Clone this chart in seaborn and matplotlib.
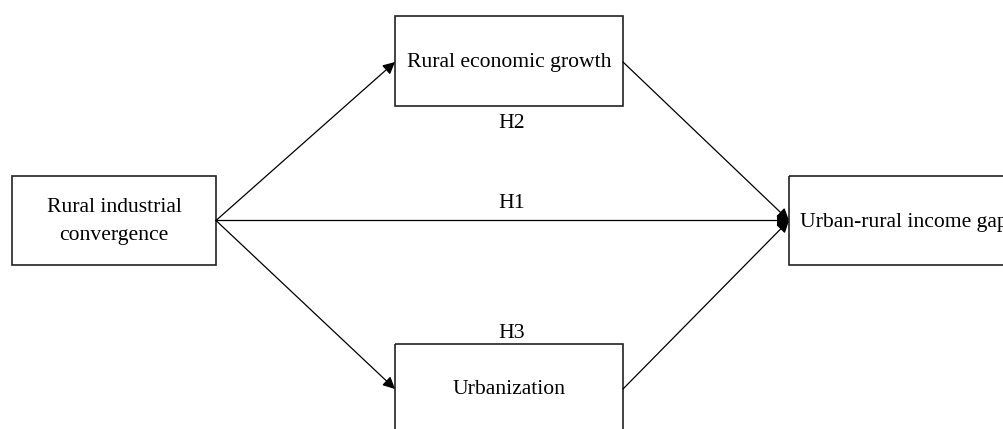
import seaborn as sns
import matplotlib.pyplot as plt
from matplotlib.patches import Rectangle

# Nodes and paths of the diagram
nodes = ["Rural industrial\nconvergence", "Rural economic growth", "Urbanization", "Urban-rural income gap"]
paths = [("Rural industrial\nconvergence", "Urban-rural income gap"),
         ("Rural industrial\nconvergence", "Rural economic growth"),
         ("Rural industrial\nconvergence", "Urbanization"),
         ("Rural economic growth", "Urban-rural income gap"),
         ("Urbanization", "Urban-rural income gap")]
hypotheses = ["H1", "H2", "H3"]

# layout (pixel coords, y down): x0, y0, x1, y1
boxes = {
    "Rural industrial\nconvergence": (12, 176, 216, 265),
    "Rural economic growth": (395, 16, 623, 106),
    "Urbanization": (395, 344, 623, 434),
    "Urban-rural income gap": (789, 176, 1010, 265),
}
hyp_pos = {"H1": (512, 203), "H2": (512, 123), "H3": (512, 333)}

sns.set_theme(style="white")
plt.rcParams['font.family'] = ['Liberation Serif', 'DejaVu Serif']
plt.rcParams['text.color'] = 'black'

fig = plt.figure(figsize=(10.04, 4.29), dpi=100)
ax = fig.add_axes([0, 0, 1, 1])
ax.set_xlim(0, 1004)
ax.set_ylim(429, 0)
ax.axis("off")

FS = 15.6

for name in nodes:
    x0, y0, x1, y1 = boxes[name]
    ax.add_patch(Rectangle((x0, y0), x1 - x0, y1 - y0, fill=False,
                           edgecolor="#222222", lw=1.2, zorder=2))
    if name == "Urban-rural income gap":
        ax.text(x0 + 11, (y0 + y1) / 2 + 2, name, ha="left", va="center", fontsize=FS)
    elif name == "Urbanization":
        ax.text((x0 + x1) / 2, 390, name, ha="center", va="center", fontsize=FS)
    else:
        ax.text((x0 + x1) / 2, (y0 + y1) / 2 + 1, name, ha="center", va="center",
                fontsize=FS, linespacing=1.6)

def anchor(n, side):
    x0, y0, x1, y1 = boxes[n]
    y = 389 if n == "Urbanization" else (y0 + y1) / 2
    if n == "Rural economic growth":
        y = 62
    return (x1 if side == "right" else x0, y)

for src, dst in paths:
    ax.annotate("", xy=anchor(dst, "left"), xytext=anchor(src, "right"),
                arrowprops=dict(arrowstyle="-|>", color="black", lw=0.9,
                                mutation_scale=18, shrinkA=0, shrinkB=0))

for h in hypotheses:
    ax.text(*hyp_pos[h], h, ha="center", va="center", fontsize=FS)

fig.savefig("out.png", dpi=100)
